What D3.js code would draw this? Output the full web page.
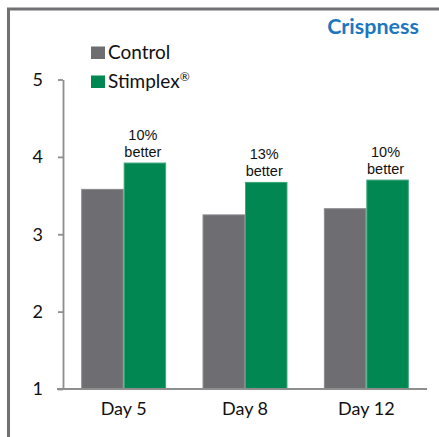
<!DOCTYPE html>
<html>
<head>
<meta charset="utf-8">
<script src="https://cdn.jsdelivr.net/npm/d3@7"></script>
<style>
  body { margin: 0; background: #fff; }
  svg { display: block; }
</style>
</head>
<body>
<svg id="canvas"></svg>
<script>
const days = ['Day 5', 'Day 8', 'Day 12'];
const seriesNames = ['Control', 'Stimplex'];
const control = [3.58, 3.25, 3.33];
const stimplex = [3.92, 3.67, 3.70];
const improvements = ['10%', '13%', '10%'];
const yTicks = [1, 2, 3, 4, 5];

const width = 439;
const height = 437;
const margin = { top: 79.5, right: 12, bottom: 48, left: 63 };
const colors = ['#6e6d71', '#008752'];
const strokes = ['#8a898d', '#3aa77a'];

const svg = d3.select('#canvas')
  .attr('width', width)
  .attr('height', height);

// Frame (left and top edges only)
svg.append('path')
  .attr('d', `M8.5,${height} V9 H${width}`)
  .attr('fill', 'none')
  .attr('stroke', '#717174')
  .attr('stroke-width', 3);

const x = d3.scaleBand()
  .domain(days)
  .range([margin.left, width - margin.right])
  .paddingInner(0.3)
  .paddingOuter(0.15);

const xSub = d3.scaleBand()
  .domain(seriesNames)
  .range([0, x.bandwidth()]);

const y = d3.scaleLinear()
  .domain([1, 5])
  .range([height - margin.bottom, margin.top]);

const rows = days.map((d, i) => ({ day: d, values: [control[i], stimplex[i]], label: improvements[i] }));

// Bars
const groups = svg.selectAll('g.day')
  .data(rows)
  .enter()
  .append('g')
  .attr('class', 'day')
  .attr('transform', (d) => `translate(${x(d.day)},0)`);

groups.selectAll('rect')
  .data((d) => d.values.map((v, k) => ({ name: seriesNames[k], value: v, k })))
  .enter()
  .append('rect')
  .attr('x', (d) => xSub(d.name) + 0.5)
  .attr('y', (d) => y(d.value))
  .attr('width', xSub.bandwidth() - 1)
  .attr('height', (d) => y(1) - y(d.value))
  .attr('fill', (d) => colors[d.k])
  .attr('stroke', (d) => strokes[d.k])
  .attr('stroke-width', 1);

// "% better" notes above the Stimplex bars
const notes = groups.append('text')
  .attr('text-anchor', 'middle')
  .attr('font-family', '"Liberation Sans", Arial, sans-serif')
  .attr('font-size', 14.5)
  .attr('fill', '#111');

notes.append('tspan')
  .attr('x', xSub('Stimplex') + xSub.bandwidth() / 2 - 2)
  .attr('y', (d) => y(d.values[1]) - 23)
  .text((d) => d.label);

notes.append('tspan')
  .attr('x', xSub('Stimplex') + xSub.bandwidth() / 2 - 2)
  .attr('y', (d) => y(d.values[1]) - 6)
  .text('better');

// Axes
const yAxis = d3.axisLeft(y)
  .tickValues(yTicks)
  .tickFormat(d3.format('d'))
  .tickSize(5)
  .tickSizeOuter(0)
  .tickPadding(15);

const gy = svg.append('g')
  .attr('transform', `translate(${margin.left},0)`)
  .call(yAxis);

const xAxis = d3.axisBottom(x)
  .tickSize(0)
  .tickPadding(13);

const gx = svg.append('g')
  .attr('transform', `translate(0,${height - margin.bottom})`)
  .call(xAxis);

[gy, gx].forEach((g) => {
  g.selectAll('path, line')
    .attr('stroke', '#8e8e8e')
    .attr('stroke-width', 1.8);
  g.selectAll('text')
    .attr('font-family', 'Lato, sans-serif')
    .attr('font-size', 18)
    .attr('fill', '#111');
});

gx.select('.domain')
  .attr('d', `M${margin.left - 6},0 H${width - margin.right}`);

// Legend
const legend = svg.append('g')
  .selectAll('g')
  .data(seriesNames)
  .enter()
  .append('g')
  .attr('transform', (d, i) => `translate(91,${46.5 + i * 29})`);

legend.append('rect')
  .attr('width', 14)
  .attr('height', 12.5)
  .attr('fill', (d, i) => colors[i]);

const legendText = legend.append('text')
  .attr('x', 17)
  .attr('y', 12.5)
  .attr('font-family', 'Lato, sans-serif')
  .attr('font-size', 19)
  .attr('fill', '#111')
  .text((d) => d);

legendText.filter((d) => d === 'Stimplex')
  .append('tspan')
  .attr('dy', -7)
  .attr('font-size', 12)
  .text('®');

// Title
svg.append('text')
  .attr('x', 419)
  .attr('y', 34)
  .attr('text-anchor', 'end')
  .attr('font-family', 'Lato, sans-serif')
  .attr('font-weight', 'bold')
  .attr('font-size', 21.5)
  .attr('fill', '#1c76c0')
  .text('Crispness');
</script>
</body>
</html>
